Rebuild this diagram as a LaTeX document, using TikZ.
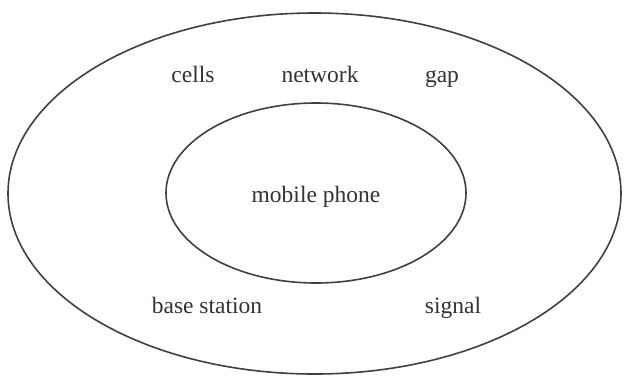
\documentclass[tikz,border=0pt]{standalone}
\usepackage{fontspec}
\setmainfont{Liberation Serif}
\usetikzlibrary{shapes.geometric}
\begin{document}
\begin{tikzpicture}[x=1pt,y=-1pt,
  ring/.style={draw=black!75,line width=1.6pt},
  lbl/.style={font=\fontsize{23.5}{27}\selectfont,text=black!80,inner sep=0pt,anchor=base}]
\useasboundingbox (0,0) rectangle (624,376);
\fill[white] (0,0) rectangle (624,376);
\draw[ring] (314.5,193.5) ellipse [x radius=306.5, y radius=180.5];
\draw[ring] (316,193) ellipse [x radius=150, y radius=90];
\node[lbl] (cells) at (193,82) {cells};
\node[lbl] (network) at (320,82) {network};
\node[lbl] (gap) at (442,82) {gap};
\node[lbl] (phone) at (316,202) {mobile phone};
\node[lbl] (base) at (207,313) {base station};
\node[lbl] (signal) at (453,313) {signal};
\end{tikzpicture}
\end{document}
